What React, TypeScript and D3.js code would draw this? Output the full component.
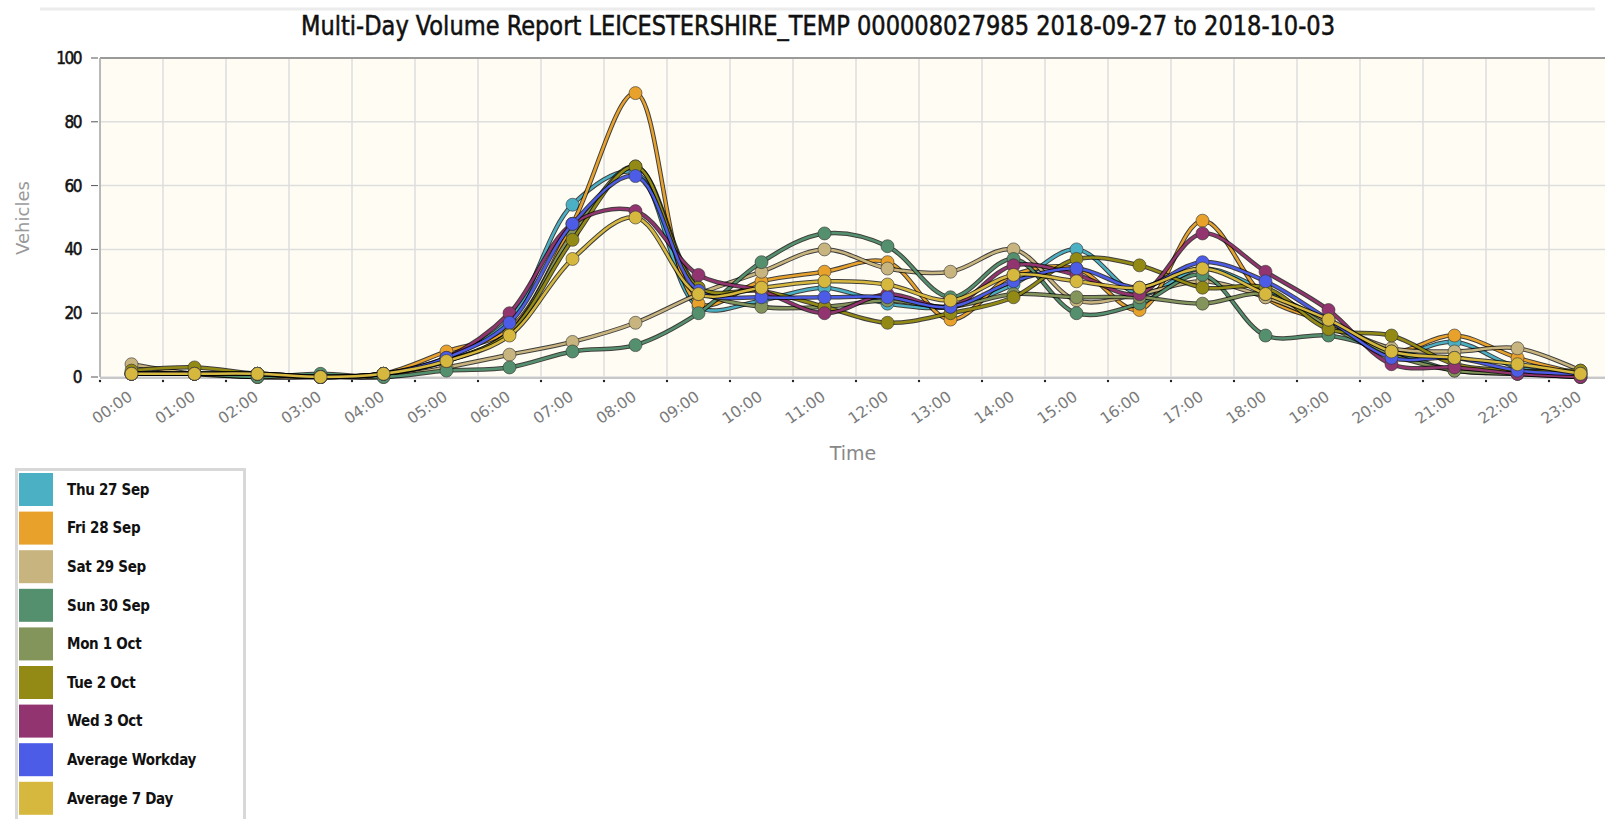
import * as d3 from 'd3'
import { useEffect, useRef } from 'react'

const hours = [
    '00:00', '01:00', '02:00', '03:00', '04:00', '05:00', '06:00', '07:00',
    '08:00', '09:00', '10:00', '11:00', '12:00', '13:00', '14:00', '15:00',
    '16:00', '17:00', '18:00', '19:00', '20:00', '21:00', '22:00', '23:00',
]

const seriesNames = [
    'Thu 27 Sep', 'Fri 28 Sep', 'Sat 29 Sep', 'Sun 30 Sep', 'Mon 1 Oct',
    'Tue 2 Oct', 'Wed 3 Oct', 'Average Workday', 'Average 7 Day',
]

const seriesColors = [
    '#4bb0c4', '#e8a22c', '#c8b47e', '#55906e', '#83955a',
    '#928a14', '#923470', '#4d5ce6', '#d6b83e',
]

const thu27 = [1, 1, 1, 0, 1, 6, 18, 54, 64, 22, 24, 28, 23, 22, 29, 40, 26, 34, 27, 17, 7, 11, 3, 1]
const fri28 = [1, 1, 0, 0, 1, 8, 15, 48, 89, 23, 30, 33, 36, 18, 32, 34, 21, 49, 25, 17, 8, 13, 6, 1]
const sat29 = [4, 1, 0, 0, 0, 3, 7, 11, 17, 26, 33, 40, 34, 33, 40, 24, 26, 30, 25, 17, 9, 8, 9, 2]
const sun30 = [1, 1, 0, 1, 0, 2, 3, 8, 10, 20, 36, 45, 41, 25, 37, 20, 23, 32, 13, 13, 8, 2, 1, 0]
const mon1 = [1, 1, 1, 0, 1, 5, 14, 45, 66, 28, 22, 22, 24, 22, 26, 25, 25, 23, 26, 16, 7, 2, 1, 0]
const tue2 = [2, 3, 1, 0, 1, 5, 14, 43, 66, 28, 27, 22, 17, 20, 25, 37, 35, 28, 28, 15, 13, 4, 2, 2]
const wed3 = [1, 1, 1, 0, 1, 6, 20, 48, 52, 32, 27, 20, 26, 22, 35, 32, 26, 45, 33, 21, 4, 3, 1, 0]
const avgWorkday = [1, 1, 1, 0, 1, 6, 17, 48, 63, 27, 25, 25, 25, 22, 30, 34, 28, 36, 30, 18, 6, 6, 2, 1]
const avg7Day = [1, 1, 1, 0, 1, 5, 13, 37, 50, 26, 28, 30, 29, 24, 32, 30, 28, 34, 26, 18, 8, 6, 4, 1]

const seriesValues = [thu27, fri28, sat29, sun30, mon1, tue2, wed3, avgWorkday, avg7Day]

const yTicks = [0, 20, 40, 60, 80, 100]

const title = 'Multi-Day Volume Report LEICESTERSHIRE_TEMP 000008027985 2018-09-27 to 2018-10-03'

export default function App() {
    const svgRef = useRef<SVGSVGElement>(null)
    const width = 1605
    const height = 819

    useEffect(() => {
        if (!svgRef.current) return
        const svg = d3.select(svgRef.current)
        svg.selectAll('*').remove()

        const plot = { left: 100, top: 58, right: 1612, bottom: 377 }

        const x = d3.scaleBand<string>().domain(hours).range([plot.left, plot.right])
        const y = d3.scaleLinear().domain([0, 100]).range([plot.bottom, plot.top])
        const cx = (h: string) => (x(h) as number) + x.bandwidth() / 2

        // top rule
        svg.append('line')
            .attr('x1', 40).attr('x2', 1595).attr('y1', 9).attr('y2', 9)
            .attr('stroke', '#ececec').attr('stroke-width', 3)

        svg.append('text')
            .attr('x', 818).attr('y', 35)
            .attr('text-anchor', 'middle')
            .attr('font-family', 'DejaVu Sans Condensed, DejaVu Sans, sans-serif')
            .attr('font-size', 26)
            .attr('fill', '#111')
            .attr('stroke', '#111')
            .attr('stroke-width', 0.5)
            .attr('textLength', 1034)
            .attr('lengthAdjust', 'spacingAndGlyphs')
            .text(title)

        // plot background
        svg.append('rect')
            .attr('x', plot.left).attr('y', plot.top)
            .attr('width', plot.right - plot.left).attr('height', plot.bottom - plot.top)
            .attr('fill', '#fefcf3')

        // grid
        const g = svg.append('g')
        hours.forEach((h) => {
            const gx = x(h) as number
            g.append('line')
                .attr('x1', gx).attr('x2', gx).attr('y1', plot.top).attr('y2', plot.bottom)
                .attr('stroke', '#dedede').attr('stroke-width', 1.5)
            g.append('circle').attr('cx', gx).attr('cy', plot.bottom + 4).attr('r', 1.2).attr('fill', '#222')
        })
        yTicks.forEach((t) => {
            g.append('line')
                .attr('x1', plot.left).attr('x2', plot.right).attr('y1', y(t)).attr('y2', y(t))
                .attr('stroke', t === 100 ? '#9a9a9a' : '#dedede').attr('stroke-width', t === 100 ? 2 : 1.5)
            g.append('line')
                .attr('x1', plot.left - 9).attr('x2', plot.left - 2).attr('y1', y(t)).attr('y2', y(t))
                .attr('stroke', '#555').attr('stroke-width', 1)
            g.append('text')
                .attr('x', plot.left - 19).attr('y', y(t))
                .attr('dy', '0.35em')
                .attr('text-anchor', 'end')
                .attr('font-family', 'DejaVu Sans Condensed, DejaVu Sans, sans-serif')
                .attr('font-size', 17)
                .attr('letter-spacing', -1.5)
                .attr('fill', '#111')
                .attr('stroke', '#111')
                .attr('stroke-width', 0.5)
                .text(t)
        })
        g.append('line')
            .attr('x1', plot.left).attr('x2', plot.left).attr('y1', plot.top).attr('y2', plot.bottom)
            .attr('stroke', '#aaa').attr('stroke-width', 1.5)
        g.append('line')
            .attr('x1', plot.left).attr('x2', plot.right).attr('y1', plot.bottom + 1).attr('y2', plot.bottom + 1)
            .attr('stroke', '#c8c8c8').attr('stroke-width', 2)

        // x tick labels
        hours.forEach((h) => {
            svg.append('text')
                .attr('transform', `translate(${cx(h) + 2},${plot.bottom + 22}) rotate(-35)`)
                .attr('text-anchor', 'end')
                .attr('font-family', 'DejaVu Sans, sans-serif')
                .attr('font-size', 15.5)
                .attr('fill', '#7a7a7a')
                .text(h)
        })

        svg.append('text')
            .attr('transform', 'translate(29,218) rotate(-90)')
            .attr('text-anchor', 'middle')
            .attr('font-family', 'DejaVu Sans, sans-serif')
            .attr('font-size', 18)
            .attr('fill', '#999')
            .text('Vehicles')

        svg.append('text')
            .attr('x', 853).attr('y', 460)
            .attr('text-anchor', 'middle')
            .attr('font-family', 'DejaVu Sans, sans-serif')
            .attr('font-size', 19)
            .attr('fill', '#888')
            .text('Time')

        // series
        const line = d3.line<number>()
            .x((_, i) => cx(hours[i]))
            .y((d) => y(d))
            .curve(d3.curveCatmullRom.alpha(0.5))

        const lines = svg.append('g')
        seriesValues.forEach((vals, si) => {
            lines.append('path')
                .attr('d', line(vals))
                .attr('fill', 'none')
                .attr('stroke', '#000')
                .attr('stroke-opacity', 0.75)
                .attr('stroke-width', 4.5)
            lines.append('path')
                .attr('d', line(vals))
                .attr('fill', 'none')
                .attr('stroke', seriesColors[si])
                .attr('stroke-width', 2.5)
            vals.forEach((v, i) => {
                lines.append('circle')
                    .attr('cx', cx(hours[i]))
                    .attr('cy', y(v))
                    .attr('r', 6.5)
                    .attr('fill', seriesColors[si])
                    .attr('stroke', '#333')
                    .attr('stroke-opacity', 0.6)
                    .attr('stroke-width', 1)
            })
        })

        // legend
        const legend = svg.append('g')
        legend.append('rect')
            .attr('x', 16.5).attr('y', 469.5)
            .attr('width', 228).attr('height', 400)
            .attr('fill', '#fff')
            .attr('stroke', '#d8d8d8').attr('stroke-width', 3)
        seriesNames.forEach((name, i) => {
            const ly = 473 + i * 38.6
            legend.append('rect')
                .attr('x', 19).attr('y', ly)
                .attr('width', 34).attr('height', 33)
                .attr('fill', seriesColors[i])
            legend.append('text')
                .attr('x', 67).attr('y', ly + 16.5)
                .attr('dy', '0.35em')
                .attr('font-family', 'DejaVu Sans Condensed, DejaVu Sans, sans-serif')
                .attr('font-weight', 'bold')
                .attr('font-size', 15)
                .attr('letter-spacing', -0.3)
                .attr('fill', '#111')
                .text(name)
        })
    }, [])

    return (
        <div style={{ position: 'absolute', left: 0, top: 0 }}>
            <svg ref={svgRef} width={width} height={height} style={{ display: 'block' }} />
        </div>
    )
}
